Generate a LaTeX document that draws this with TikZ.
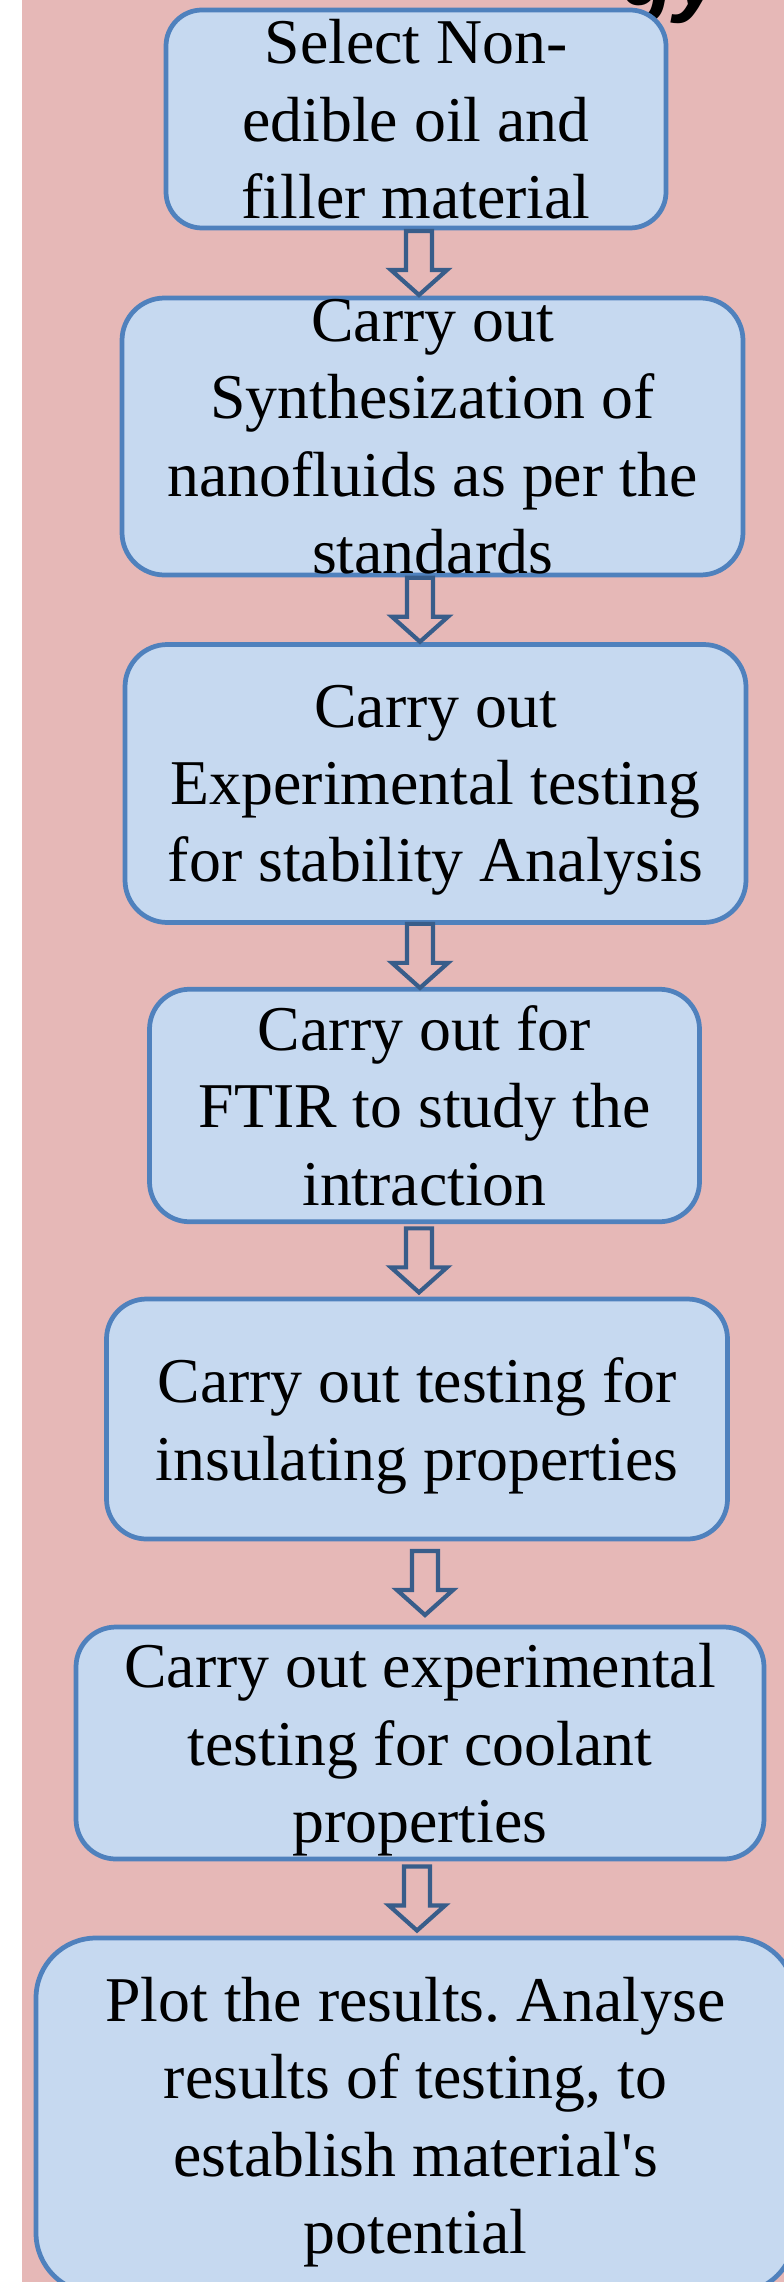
\documentclass[tikz,border=0pt]{standalone}
\usepackage{fontspec}
\setmainfont{Liberation Serif}
\newfontfamily\titlefont{Liberation Sans}
\usetikzlibrary{calc,positioning}
\definecolor{mBack}{RGB}{230,184,183}
\definecolor{mFill}{RGB}{198,217,240}
\definecolor{mEdge}{RGB}{79,129,189}
\definecolor{mArrow}{RGB}{56,93,138}
\frenchspacing
% hollow block arrow centred in the gap between two boxes, #3 = its x
\newcommand{\flowarrow}[3]{%
  \coordinate (ax) at (#3,0);
  \coordinate (am) at ($(ax |- #1.south)!0.5!(ax |- #2.north)$);
  \draw[hollow] ([shift={(-0.26,0.64)}]am) -- ([shift={(0.26,0.64)}]am)
    -- ([shift={(0.26,-0.14)}]am) -- ([shift={(0.56,-0.14)}]am)
    -- ([shift={(0,-0.64)}]am) -- ([shift={(-0.56,-0.14)}]am)
    -- ([shift={(-0.26,-0.14)}]am) -- cycle;}

\begin{document}
\begin{tikzpicture}[
    stage/.style={draw=mEdge,line width=2.7pt,fill=mFill,rounded corners=0.85cm,
                  align=center,inner sep=0pt,text depth=-6pt,
                  font=\fontsize{36.3}{44}\selectfont},
    hollow/.style={draw=mArrow,line width=2.4pt,line join=miter}]
  \useasboundingbox (0,0) rectangle (15.68,-45.64);
  \fill[white] (0,0) rectangle (15.68,-45.64);
  \fill[mBack] (0.44,0) rectangle (15.68,-45.64);
  \node[anchor=base west,font=\titlefont\bfseries\itshape\fontsize{50}{60}\selectfont]
    (title) at (12.3,-0.12) {gy};

  \node[stage,rounded corners=0.72cm,minimum width=10cm,minimum height=4.36cm]
    (s1) at (8.32,-2.38) {Select Non-\\ edible oil and\\ filler material};
  \node[stage,minimum width=12.42cm,minimum height=5.54cm]
    (s2) at (8.65,-8.73) {Carry out\\ Synthesization of\\ nanofluids as per the\\ standards};
  \node[stage,minimum width=12.42cm,minimum height=5.56cm]
    (s3) at (8.71,-15.67) {Carry out\\ Experimental testing\\ for stability Analysis};
  \node[stage,rounded corners=0.8cm,minimum width=11cm,minimum height=4.65cm]
    (s4) at (8.49,-22.11) {Carry out for\\ FTIR to study the\\ intraction};
  \node[stage,rounded corners=0.8cm,minimum width=12.42cm,minimum height=4.8cm]
    (s5) at (8.34,-28.38) {Carry out testing for\\ insulating properties};
  \node[stage,rounded corners=0.8cm,minimum width=13.76cm,minimum height=4.64cm]
    (s6) at (8.40,-34.86) {Carry out experimental\\ testing for coolant\\ properties};
  \node[stage,rounded corners=1.2cm,minimum width=15.18cm,minimum height=7.1cm]
    (s7) at (8.31,-42.31) {Plot the results. Analyse\\ results of testing, to\\ establish material\textquotesingle s\\ potential};

  \flowarrow{s1}{s2}{8.38}
  \flowarrow{s2}{s3}{8.40}
  \flowarrow{s3}{s4}{8.40}
  \flowarrow{s4}{s5}{8.38}
  \flowarrow{s5}{s6}{8.50}
  \flowarrow{s6}{s7}{8.34}
\end{tikzpicture}
\end{document}
